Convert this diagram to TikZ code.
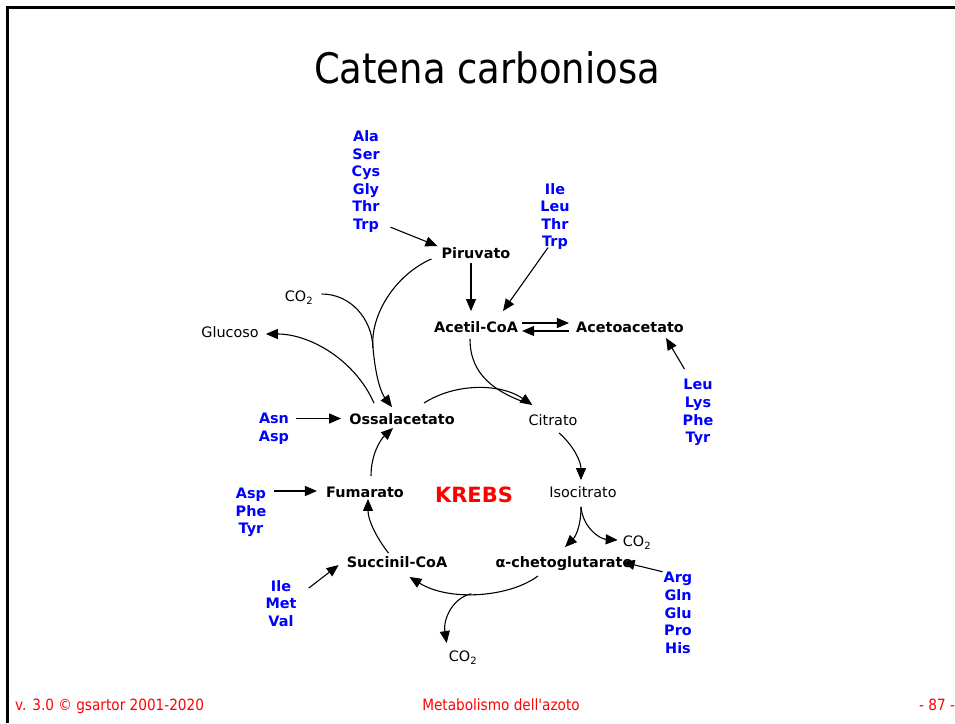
\documentclass[tikz,border=0pt]{standalone}
\usepackage{fontspec}
\setmainfont{DejaVu Sans}
\newfontfamily\condfont[FakeStretch=0.88]{DejaVu Sans}
\usetikzlibrary{arrows.meta}
\definecolor{aablue}{RGB}{0,0,255}
\definecolor{slidered}{RGB}{255,0,0}

\begin{document}
\begin{tikzpicture}[x=1pt,y=-1pt,
  met/.style={font=\fontsize{14.4}{16}\selectfont\bfseries, text height=12.5pt, text depth=1pt, inner sep=2pt},
  metr/.style={font=\fontsize{14.4}{16}\selectfont, text height=12.5pt, text depth=1pt, inner sep=2pt},
  aa/.style={font=\fontsize{14.4}{17.6}\selectfont\bfseries, text=aablue, align=center, inner sep=1pt},
  conn/.style={line width=1.1pt, -{Triangle[length=12pt,width=10pt]}},
  plain/.style={line width=1.1pt},
  footer/.style={font=\condfont\fontsize{15.5}{18}\selectfont, text=slidered, inner sep=0pt}
]
% page and frame
\fill[white] (0,0) rectangle (955,723);
\path[use as bounding box] (0,0) rectangle (955,723);
\draw[line width=2.4pt] (7.5,723) -- (7.5,7.5) -- (955,7.5);

% title
\node[font=\condfont\fontsize{42}{48}\selectfont, anchor=base, inner sep=0pt] (title) at (487,83) {Catena carboniosa};

% metabolites
\node[met]  (pir)   at (476,253) {Piruvato};
\node[met]  (acoa)  at (476,327) {Acetil-CoA};
\node[met]  (aceto) at (630,327) {Acetoacetato};
\node[met]  (oss)   at (402,419) {Ossalacetato};
\node[metr] (cit)   at (553,420) {Citrato};
\node[metr] (iso)   at (583,492) {Isocitrato};
\node[met]  (akg)   at (564,562) {α-chetoglutarato};
\node[met]  (suc)   at (397,562) {Succinil-CoA};
\node[met]  (fum)   at (365,492) {Fumarato};
\node[metr] (gluc)  at (230,332) {Glucoso};
\node[metr] (co2a)  at (299,296) {CO\textsubscript{2}};
\node[metr] (co2b)  at (637,541) {CO\textsubscript{2}};
\node[metr] (co2c)  at (463,656) {CO\textsubscript{2}};
\node[font=\fontsize{21}{25}\selectfont\bfseries, text=slidered, anchor=base, inner sep=0pt] (krebs) at (474,502) {KREBS};

% amino acid groups
\node[aa] (g1) at (366,181.5) {Ala\\Ser\\Cys\\Gly\\Thr\\Trp};
\node[aa] (g2) at (555,216.5) {Ile\\Leu\\Thr\\Trp};
\node[aa] (g3) at (698,412.5) {Leu\\Lys\\Phe\\Tyr};
\node[aa] (g4) at (274,429)   {Asn\\Asp};
\node[aa] (g5) at (251,512.5) {Asp\\Phe\\Tyr};
\node[aa] (g6) at (281,603.5) {Ile\\Met\\Val};
\node[aa] (g7) at (678,613)   {Arg\\Gln\\Glu\\Pro\\His};

% amino acid entries
\draw[conn] ([shift={(9,-6.5)}]g1.south east) -- ([shift={(-2,2)}]pir.north west);
\draw[conn] ([shift={(-7,-3.5)}]g2.south) -- ([shift={(27,-7)}]acoa.north);
\draw[conn] ([shift={(3,-9)}]g3.north west) -- ([shift={(-20,2)}]aceto.south east);
\draw[conn] ([shift={(6,-10.5)}]g4.east) -- ([shift={(-6,-0.5)}]oss.west);
\draw[conn] ([shift={(7,-21.5)}]g5.east) -- ([shift={(-7,-1)}]fum.west);
\draw[conn] ([shift={(11,9)}]g6.north east) -- ([shift={(-6,3)}]suc.west);
\draw[conn] ([shift={(0,0.5)}]g7.north west) -- ([shift={(-12,0)}]akg.east);

% pyruvate, acetyl-CoA, acetoacetate
\draw[conn] ([shift={(-5,1)}]pir.south) -- ([shift={(-5,-7)}]acoa.north);
\draw[conn] ([shift={(2,-4)}]acoa.east) -- ([shift={(-5,-4)}]aceto.west);
\draw[conn] ([shift={(-5,4)}]aceto.west) -- ([shift={(2,4)}]acoa.east);

% pyruvate carboxylation
\coordinate (pcmerge) at (373,348);
\draw[plain] ([shift={(6.4,-2)}]co2a.east) .. controls (350,294) and (372,318) .. (pcmerge);
\draw[conn] ([shift={(-8,-3)}]pir.south west) .. controls (395,275) and (370,315) .. (pcmerge)
  .. controls (376,381) and (382,394) .. ([shift={(-10,-3)}]oss.north);

% gluconeogenesis
\draw[conn] ([shift={(-28,-7)}]oss.north) .. controls (355,360) and (310,334) .. ([shift={(5,2)}]gluc.east);

% Krebs cycle
\draw[conn] ([shift={(22,-7)}]oss.north) .. controls (455,383) and (500,383) .. ([shift={(6,-6)}]cit.north west);
\draw[plain, shorten >=4pt] ([shift={(-6,3)}]acoa.south) .. controls (470,375) and (495,392) .. ([shift={(6,-6)}]cit.north west);
\draw[conn] ([shift={(6,4)}]cit.south) .. controls (574,446) and (581,462) .. ([shift={(-2,-3)}]iso.north);
\draw[conn] ([shift={(-2,6)}]iso.south) .. controls (581,525) and (576,536) .. ([shift={(1,-6)}]akg.north);
\draw[conn] ([shift={(-2,6)}]iso.south) .. controls (583,528) and (600,539) .. ([shift={(-3,-1)}]co2b.west);
\draw[conn] ([shift={(-26,5)}]akg.south) .. controls (510,597) and (450,602) .. coordinate[pos=0.55] (kgco2) ([shift={(12.5,6)}]suc.south);
\draw[conn] (kgco2) .. controls (452,598) and (443,620) .. ([shift={(0,-4)}]co2c.north west);
\draw[conn] ([shift={(-8.5,0)}]suc.north) .. controls (376,537) and (368,520) .. ([shift={(3,-2)}]fum.south);
\draw[conn] ([shift={(6,-7)}]fum.north) .. controls (371,455) and (380,440) .. ([shift={(-9,0)}]oss.south);

% footer
\node[footer, anchor=base west] (ver)  at (15,710)  {v. 3.0 © gsartor 2001-2020};
\node[footer, anchor=base]      (topic) at (501,710) {Metabolismo dell'azoto};
\node[footer, anchor=base west] (page) at (919,710) {- 87 -};
\end{tikzpicture}
\end{document}
